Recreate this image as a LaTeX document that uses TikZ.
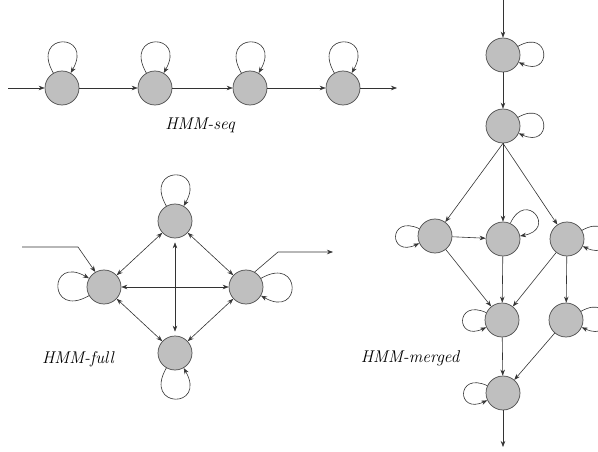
\documentclass[tikz,border=0pt]{standalone}
\usepackage{tikz}
\usetikzlibrary{arrows.meta}
\tikzset{
    state/.style={circle, draw=black!70, fill=black!25, line width=0.7pt, minimum size=34pt, inner sep=0pt},
    link/.style={-{Stealth[length=6pt,width=4.5pt]}, black!80, line width=0.6pt},
    twoway/.style={{Stealth[length=6pt,width=4.5pt]}-{Stealth[length=6pt,width=4.5pt]}, black!80, line width=0.6pt},
    hmmlabel/.style={font=\itshape\fontsize{17}{20}\selectfont}
}
\begin{document}
\begin{tikzpicture}[x=1pt, y=1pt]
    \useasboundingbox (0,0) rectangle (598,-452);
    % HMM-seq
    \foreach \i/\x in {1/62, 2/155, 3/250, 4/343}
        \node[state] (s\i) at (\x,-88) {};
    \coordinate (sin) at (8,-88);
    \coordinate (sout) at (397,-88);
    \draw[link] (sin) -- (s1);
    \foreach \i/\j in {1/2, 2/3, 3/4}
        \draw[link] (s\i) -- (s\j);
    \draw[link] (s4) -- (sout);
    \foreach \i in {1,...,4}
        \draw[link] (s\i) to[out=120, in=60, looseness=7] (s\i);
    \node[hmmlabel] (seqlab) at (200,-125) {HMM-seq};
    % HMM-full
    \node[state] (ft) at (175,-221) {};
    \node[state] (fl) at (104,-287) {};
    \node[state] (fr) at (246,-287) {};
    \node[state] (fb) at (175,-353) {};
    \draw[twoway] (ft) -- (fl);
    \draw[twoway] (ft) -- (fr);
    \draw[twoway] (fl) -- (fb);
    \draw[twoway] (fr) -- (fb);
    \draw[twoway] (fl) -- (fr);
    \draw[twoway, shorten <=4pt, shorten >=4pt] (ft) -- (fb);
    \coordinate (fin) at (22,-247);
    \coordinate (finbend) at (78,-247);
    \coordinate (foutbend) at (278,-252);
    \coordinate (fout) at (333,-252);
    \draw[link] (fin) -- (finbend) -- (fl.120);
    \draw[link] (fr.60) -- (foutbend) -- (fout);
    \draw[link] (ft) to[out=120, in=60, looseness=7] (ft);
    \draw[link] (fl) to[out=210, in=150, looseness=7] (fl);
    \draw[link] (fr) to[out=30, in=-30, looseness=7] (fr);
    \draw[link] (fb) to[out=240, in=300, looseness=7] (fb);
    \node[hmmlabel] (fulllab) at (78,-359) {HMM-full};
    % HMM-merged
    \node[state] (ma) at (503,-55) {};
    \node[state] (mb) at (503,-126) {};
    \node[state] (mc) at (435,-236) {};
    \node[state] (md) at (503,-239) {};
    \node[state] (me) at (567,-239) {};
    \node[state] (mf) at (502,-320) {};
    \node[state] (mg) at (566,-320) {};
    \node[state] (mh) at (503,-393) {};
    \coordinate (min) at (503,0);
    \coordinate (mout) at (503,-447);
    \draw[link] (min) -- (ma);
    \draw[link] (ma) -- (mb);
    \foreach \t in {mc, md, me}
        \draw[link] (mb.south) -- (\t);
    \foreach \f/\t in {mc/md, mc/mf, md/mf, me/mf, me/mg, mf/mh, mg/mh}
        \draw[link] (\f) -- (\t);
    \draw[link] (mh) -- (mout);
    \foreach \n in {ma, mb, me, mg}
        \draw[link] (\n) to[out=30, in=-25, looseness=6] (\n);
    \foreach \n in {mc, mf, mh}
        \draw[link] (\n) to[out=155, in=205, looseness=6] (\n);
    \draw[link] (md) to[out=65, in=10, looseness=6] (md);
    \node[hmmlabel] (mergedlab) at (410,-358) {HMM-merged};
\end{tikzpicture}
\end{document}
